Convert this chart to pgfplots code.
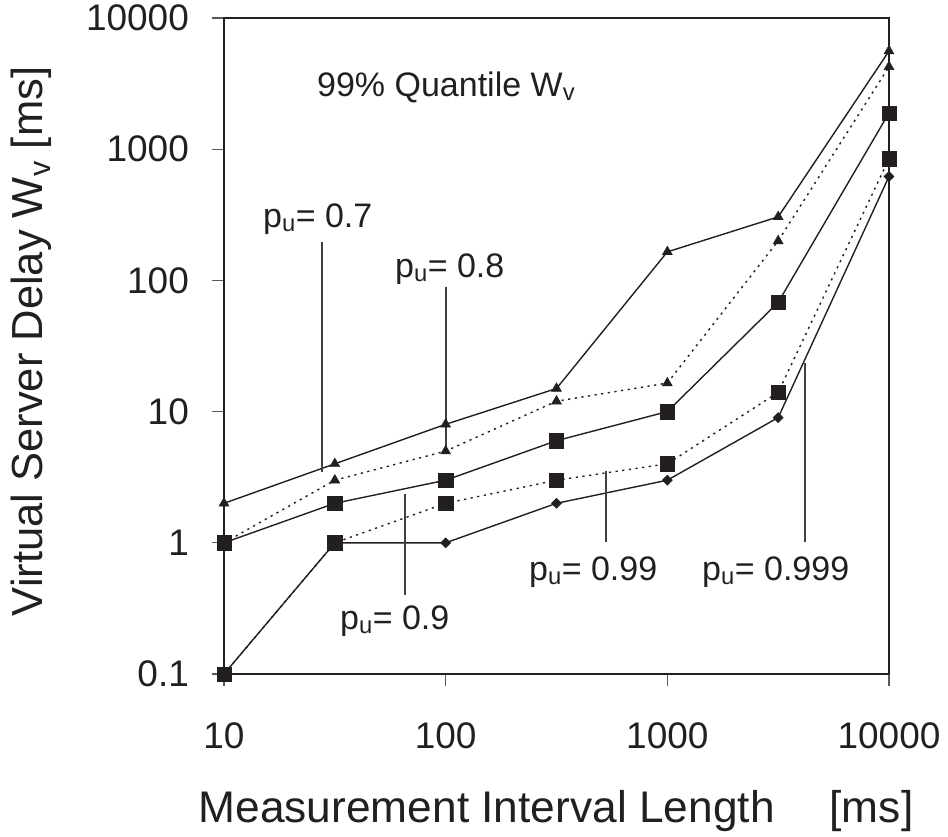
\documentclass[border=0pt]{standalone}
\usepackage{pgfplots}
\pgfplotsset{compat=1.18}
\usepackage{fontspec}
\setmainfont{Liberation Sans}
\definecolor{ink}{RGB}{35,31,32}
\begin{document}
\begin{tikzpicture}
\begin{axis}[
  xmode=log, ymode=log,
  scale only axis, width=665pt, height=656pt,
  xmin=10, xmax=10000, ymin=0.1, ymax=10000,
  xtick={10,100,1000,10000}, xticklabels={10,100,1000,10000},
  ytick={0.1,1,10,100,1000,10000}, yticklabels={0.1,1,10,100,1000,10000},
  xminorticks=false, yminorticks=false,
  tick align=outside, major tick length=12pt,
  xtick pos=bottom, ytick pos=left,
  axis line style={ink, line width=1.3pt},
  tick style={black!65, line width=1.2pt},
  clip=false,
  tick label style={font=\fontsize{37}{44}\selectfont, text=ink, inner sep=0pt},
  yticklabel style={anchor=east, xshift=-23pt},
  xticklabel style={anchor=north, yshift=-36pt},
  xlabel={Measurement Interval Length\hspace{55pt}[ms]},
  ylabel={Virtual Server Delay W\textsubscript{v} [ms]},
  label style={font=\fontsize{43.5}{52}\selectfont, text=ink, inner sep=0pt},
  xlabel style={at={(rel axis cs:0.4992,-0.2256)}, anchor=base, font=\fontsize{44.3}{52}\selectfont},
  ylabel style={at={(rel axis cs:-0.2722,0.5069)}, anchor=base},
]
% p_u = 0.999 (solid, diamonds)
\addplot[ink, line width=1.4pt, mark=square*, mark size=3.6pt,
  mark options={solid, rotate=45, line width=0.4pt, fill=ink}]
  coordinates {(10,0.1) (31.62,1) (100,1) (316.2,2) (1000,3) (3162,9) (10000,620)};
% p_u = 0.99 (dotted, squares)
\addplot[ink, line width=1.4pt, dash pattern=on 2.2pt off 4.5pt, mark=square*, mark size=7.2pt,
  mark options={solid, line width=0.4pt, fill=ink}]
  coordinates {(10,0.1) (31.62,1) (100,2) (316.2,3) (1000,4) (3162,14) (10000,845)};
% p_u = 0.9 (solid, squares)
\addplot[ink, line width=1.4pt, mark=square*, mark size=7.2pt,
  mark options={solid, line width=0.4pt, fill=ink}]
  coordinates {(10,1) (31.62,2) (100,3) (316.2,6) (1000,10) (3162,68) (10000,1890)};
% p_u = 0.8 (dotted, triangles)
\addplot[ink, line width=1.4pt, dash pattern=on 2.2pt off 4.5pt, mark=triangle*, mark size=5.8pt,
  mark options={solid, line width=0.4pt, fill=ink}]
  coordinates {(10,1) (31.62,3) (100,5) (316.2,12) (1000,16.5) (3162,200) (10000,4250)};
% p_u = 0.7 (solid, triangles)
\addplot[ink, line width=1.4pt, mark=triangle*, mark size=5.8pt,
  mark options={solid, line width=0.4pt, fill=ink}]
  coordinates {(10,2) (31.62,4) (100,8) (316.2,15) (1000,165) (3162,305) (10000,5600)};

% leader lines
\draw[black!75, line width=1.2pt] (rel axis cs:0.1474,0.6585) -- (rel axis cs:0.1474,0.3079);
\draw[black!75, line width=1.2pt] (rel axis cs:0.3338,0.5899) -- (rel axis cs:0.3338,0.3384);
\draw[black!75, line width=1.2pt] (rel axis cs:0.2722,0.2744) -- (rel axis cs:0.2722,0.1204);
\draw[black!75, line width=1.2pt] (rel axis cs:0.5744,0.3095) -- (rel axis cs:0.5744,0.2012);
\draw[black!75, line width=1.2pt] (rel axis cs:0.8737,0.4741) -- (rel axis cs:0.8737,0.2012);

% annotations
\tikzset{ann/.style={font=\fontsize{34}{40}\selectfont, text=ink, inner sep=0pt, anchor=base west}}
\node[ann] at (rel axis cs:0.0586,0.6814) {p\textsubscript{u}= 0.7};
\node[ann] at (rel axis cs:0.2571,0.6037) {p\textsubscript{u}= 0.8};
\node[ann] at (rel axis cs:0.1744,0.0671) {p\textsubscript{u}= 0.9};
\node[ann] at (rel axis cs:0.4586,0.1433) {p\textsubscript{u}= 0.99};
\node[ann] at (rel axis cs:0.7188,0.1433) {p\textsubscript{u}= 0.999};
\node[ann] at (rel axis cs:0.1398,0.8796) {99\% Quantile W\textsubscript{v}};

\coordinate (BL) at (rel axis cs:0,0);
\coordinate (TR) at (rel axis cs:1,1);
\end{axis}
\pgfresetboundingbox
\path ([shift={(-224pt,-162pt)}]BL) rectangle ([shift={(59pt,18pt)}]TR);
\end{tikzpicture}
\end{document}
